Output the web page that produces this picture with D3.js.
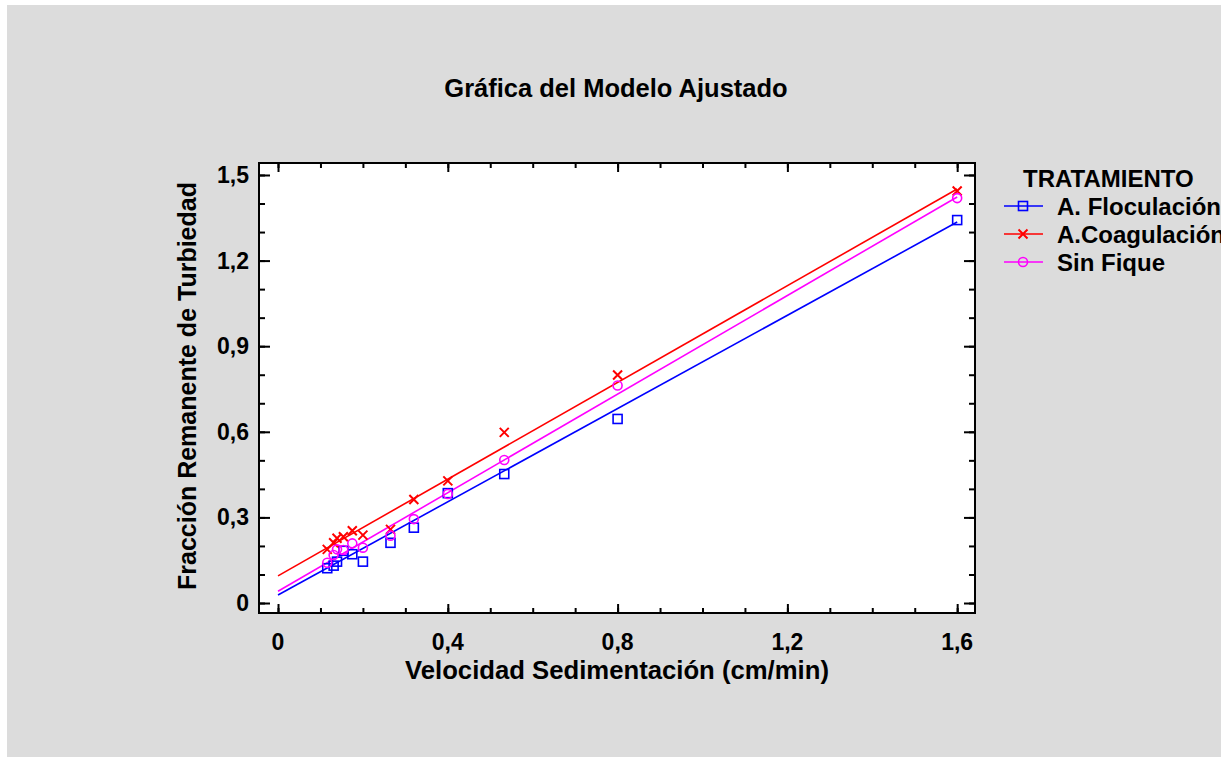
<!DOCTYPE html>
<html>
<head>
<meta charset="utf-8">
<script src="https://cdn.jsdelivr.net/npm/d3@7"></script>
<style>
  body { margin: 0; background: #fff; }
  text { font-family: "Liberation Sans", Arial, sans-serif; font-weight: bold; fill: #000; }
</style>
</head>
<body>
<script>
// chart data
var xValues = [0.116, 0.131, 0.139, 0.154, 0.175, 0.2, 0.265, 0.32, 0.4, 0.533, 0.8, 1.6];
var floculacion = [0.122, 0.131, 0.145, 0.183, 0.171, 0.145, 0.211, 0.264, 0.385, 0.452, 0.645, 1.342];
var coagulacion = [0.188, 0.211, 0.227, 0.232, 0.253, 0.238, 0.258, 0.363, 0.428, 0.598, 0.799, 1.444];
var sinFique = [0.141, 0.168, 0.188, 0.186, 0.209, 0.194, 0.236, 0.294, 0.382, 0.501, 0.762, 1.419];
// fitted model lines: value at x = 0 and x = 1.6
var lineX = [0, 1.6];
var floculacionFit = [0.028, 1.335];
var coagulacionFit = [0.095, 1.451];
var sinFiqueFit = [0.041, 1.423];
var seriesNames = ["A. Floculación", "A.Coagulación", "Sin Fique"];
var xTicks = [0, 0.4, 0.8, 1.2, 1.6];
var yTicks = [0, 0.3, 0.6, 0.9, 1.2, 1.5];

var width = 1221;
var height = 763;

var svg = d3.select("body")
            .append("svg")
            .attr("width", width)
            .attr("height", height);

// grey background panel
svg.append("rect")
   .attr("x", 7).attr("y", 5)
   .attr("width", width - 7).attr("height", 752)
   .attr("fill", "#dcdcdc");

// plot area
var pLeft = 259, pRight = 975, pTop = 163, pBottom = 613;

var x = d3.scaleLinear().domain([-0.0448, 1.642]).range([pLeft, pRight]);
var y = d3.scaleLinear().domain([-0.035, 1.542]).range([pBottom, pTop]);

svg.append("rect")
   .attr("x", pLeft).attr("y", pTop)
   .attr("width", pRight - pLeft).attr("height", pBottom - pTop)
   .attr("fill", "#fff");

var fmt = function(d) { return d === 0 ? "0" : d3.format(".1f")(d).replace(".", ","); };
var xMinor = d3.range(0, 1.65, 0.1).map(function(d) { return +d.toFixed(1); });
var yMinor = d3.range(0, 1.55, 0.1).map(function(d) { return +d.toFixed(1); });

function tickAxis(axis, tr, vals, size) {
  var g = svg.append("g").attr("transform", tr)
             .call(axis.tickValues(vals).tickSize(size).tickFormat(""));
  g.select(".domain").remove();
  g.selectAll("text").remove();
  g.selectAll("line").attr("stroke", "#000").attr("stroke-width", 2);
  return g;
}

// inward ticks on all four sides (minor then major)
tickAxis(d3.axisBottom(x), "translate(0," + pBottom + ")", xMinor, -5);
tickAxis(d3.axisBottom(x), "translate(0," + pBottom + ")", xTicks, -9);
tickAxis(d3.axisTop(x), "translate(0," + pTop + ")", xMinor, -5);
tickAxis(d3.axisTop(x), "translate(0," + pTop + ")", xTicks, -9);
tickAxis(d3.axisLeft(y), "translate(" + pLeft + ",0)", yMinor, -6);
tickAxis(d3.axisLeft(y), "translate(" + pLeft + ",0)", yTicks, -11);
tickAxis(d3.axisRight(y), "translate(" + pRight + ",0)", yMinor, -6);
tickAxis(d3.axisRight(y), "translate(" + pRight + ",0)", yTicks, -11);

// tick labels
svg.append("g").selectAll("text")
   .data(xTicks).enter().append("text")
   .attr("x", function(d) { return x(d); })
   .attr("y", 650)
   .attr("text-anchor", "middle")
   .style("font-size", "23px")
   .text(fmt);

svg.append("g").selectAll("text")
   .data(yTicks).enter().append("text")
   .attr("x", 249)
   .attr("y", function(d) { return y(d) + 8; })
   .attr("text-anchor", "end")
   .style("font-size", "23px")
   .text(fmt);

// frame
svg.append("rect")
   .attr("x", pLeft).attr("y", pTop)
   .attr("width", pRight - pLeft).attr("height", pBottom - pTop)
   .attr("fill", "none").attr("stroke", "#000").attr("stroke-width", 2);

// titles
svg.append("text")
   .attr("x", 616).attr("y", 97)
   .attr("text-anchor", "middle")
   .style("font-size", "25.5px")
   .text("Gráfica del Modelo Ajustado");

svg.append("text")
   .attr("x", 617).attr("y", 679)
   .attr("text-anchor", "middle")
   .style("font-size", "25.7px")
   .text("Velocidad Sedimentación (cm/min)");

svg.append("text")
   .attr("transform", "translate(196,386) rotate(-90)")
   .attr("text-anchor", "middle")
   .style("font-size", "25px")
   .text("Fracción Remanente de Turbiedad");

// series
var colors = ["#0000ff", "#ff0000", "#ff00ff"];
var symbols = ["square", "cross", "circle"];
var pointSets = [floculacion, coagulacion, sinFique];
var fitSets = [floculacionFit, coagulacionFit, sinFiqueFit];

var line = d3.line()
             .x(function(d) { return x(d[0]); })
             .y(function(d) { return y(d[1]); });

function drawMarker(g, kind, cx, cy, color) {
  if (kind === "square") {
    g.append("rect").attr("x", cx - 4.5).attr("y", cy - 4.5)
     .attr("width", 9).attr("height", 9)
     .attr("fill", "none").attr("stroke", color).attr("stroke-width", 1.6);
  } else if (kind === "circle") {
    g.append("circle").attr("cx", cx).attr("cy", cy).attr("r", 4.5)
     .attr("fill", "none").attr("stroke", color).attr("stroke-width", 1.6);
  } else {
    g.append("path")
     .attr("d", "M" + (cx - 4.5) + "," + (cy - 4.5) + "L" + (cx + 4.5) + "," + (cy + 4.5) +
                "M" + (cx - 4.5) + "," + (cy + 4.5) + "L" + (cx + 4.5) + "," + (cy - 4.5))
     .attr("stroke", color).attr("stroke-width", 2);
  }
}

var plot = svg.append("g");
fitSets.forEach(function(fit, i) {
  plot.append("path")
      .datum(lineX.map(function(v, j) { return [v, fit[j]]; }))
      .attr("d", line)
      .attr("fill", "none")
      .attr("stroke", colors[i])
      .attr("stroke-width", 1.6);
});
pointSets.forEach(function(vals, i) {
  var g = plot.append("g");
  vals.forEach(function(v, j) {
    drawMarker(g, symbols[i], x(xValues[j]), y(v), colors[i]);
  });
});

// legend
var legend = svg.append("g");
legend.append("text")
      .attr("x", 1023).attr("y", 187)
      .style("font-size", "24px")
      .text("TRATAMIENTO");
seriesNames.forEach(function(name, i) {
  var cy = 206 + i * 28;
  legend.append("line")
        .attr("x1", 1004).attr("x2", 1043)
        .attr("y1", cy).attr("y2", cy)
        .attr("stroke", colors[i]).attr("stroke-width", 1.6);
  drawMarker(legend, symbols[i], 1023, cy, colors[i]);
  legend.append("text")
        .attr("x", 1057).attr("y", cy + 9)
        .style("font-size", "24px")
        .text(name);
});
</script>
</body>
</html>
